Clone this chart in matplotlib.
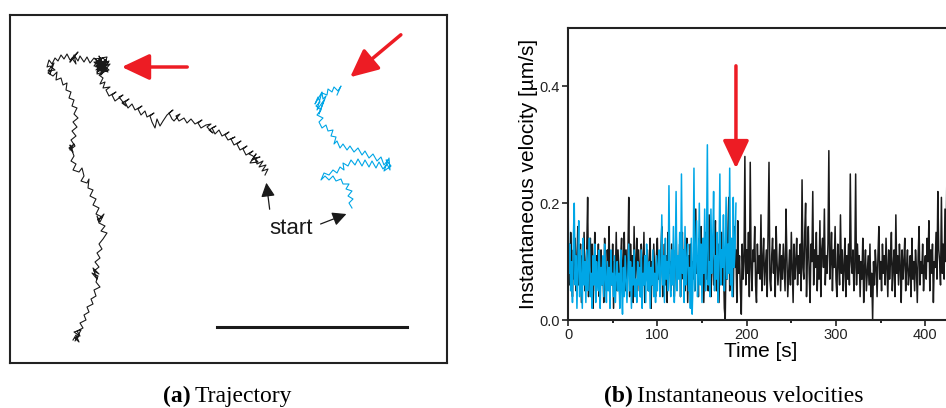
import numpy as np
import matplotlib.pyplot as plt

plt.rcParams['font.family'] = ['Liberation Sans', 'DejaVu Sans']

# trajectory (a), points in image units (x right, y down), from start to end
black_path = [
    (265, 175), (268, 169), (262, 171), (266, 165), (259, 167), (263, 161), (257, 164), (255, 158), (260, 157),
    (252, 160), (256, 154), (250, 163), (258, 162), (253, 156), (249, 154), (253, 151), (246, 155), (243, 149),
    (247, 146), (240, 150), (237, 144), (241, 141), (234, 145), (231, 139), (235, 137), (228, 140), (225, 135),
    (229, 132), (222, 136), (219, 130), (215, 134), (212, 128), (216, 126), (209, 130), (213, 133), (207, 127),
    (211, 124), (206, 125), (201, 128), (198, 123), (202, 120), (195, 124), (191, 119), (187, 123), (184, 118),
    (179, 121), (176, 116), (180, 114), (174, 121), (172, 119), (169, 113), (173, 110), (167, 115),
    (163, 121), (160, 126), (157, 119), (155, 128), (152, 122), (150, 116), (154, 113), (147, 117), (145, 111),
    (141, 115), (138, 109), (142, 106), (135, 110), (132, 104), (128, 108), (125, 102), (129, 99), (122, 103),
    (126, 106), (119, 97), (123, 95), (115, 101), (112, 95), (116, 92), (109, 96), (106, 90), (110, 87),
    (103, 88), (105, 82), (100, 84), (103, 78), (99, 75),
    (104, 72), (98, 68), (106, 64), (100, 60), (96, 67), (104, 66), (99, 71), (107, 69), (101, 62), (95, 63),
    (103, 58), (108, 63), (97, 72), (102, 67), (106, 60), (98, 64), (104, 70), (100, 58), (94, 66), (105, 66),
    (99, 62), (97, 74), (109, 70), (95, 59), (107, 57), (101, 75), (110, 64), (96, 70), (105, 61), (100, 69),
    (108, 72), (94, 62), (103, 64), (99, 56), (106, 71), (98, 66), (109, 61), (102, 73), (96, 61), (105, 68),
    (100, 63),
    (94, 58), (90, 63), (87, 57), (84, 62), (80, 56), (78, 61), (74, 55), (76, 64), (72, 58), (78, 52),
    (70, 62), (74, 57), (70, 60), (67, 54), (64, 59), (61, 55), (58, 61), (55, 58), (52, 64), (49, 60),
    (47, 67), (50, 66), (55, 70), (48, 71), (54, 63), (50, 74), (51, 70), (48, 73), (53, 76), (57, 72), (56, 80),
    (61, 78), (63, 85), (67, 83), (66, 90), (71, 92), (69, 98), (74, 100), (72, 106), (77, 108), (74, 114),
    (78, 118), (73, 122), (77, 127), (72, 131), (76, 136), (71, 140), (75, 146), (70, 150), (74, 144),
    (69, 148), (73, 152), (70, 145), (74, 156), (71, 161), (76, 164), (73, 170), (79, 172), (82, 168),
    (84, 176), (81, 181), (87, 183), (89, 179), (88, 188), (93, 190), (90, 196), (96, 199), (93, 205),
    (99, 208), (96, 214), (102, 217), (98, 220), (104, 214), (100, 222), (97, 216), (99, 223), (105, 226),
    (101, 231), (107, 233), (103, 239), (99, 244), (102, 249), (97, 253), (100, 258), (95, 262), (99, 267),
    (94, 271), (99, 274), (93, 268), (97, 279), (92, 273), (98, 276), (96, 282), (100, 287), (94, 290),
    (96, 296), (91, 299), (93, 304), (87, 307), (89, 312), (84, 315), (86, 320), (80, 323), (83, 328),
    (77, 331), (80, 336), (74, 332), (81, 330), (75, 341), (79, 336), (75, 338), (79, 342), (76, 335), (73, 340)]

blue_path = [
    (352, 208), (349, 203), (353, 199), (348, 196), (352, 191), (346, 189), (349, 184), (343, 184), (341, 179),
    (336, 181), (333, 176), (329, 180), (325, 176), (321, 180), (324, 173), (329, 175), (333, 170), (337, 173),
    (340, 167), (344, 170), (343, 163), (348, 166), (351, 160), (355, 165), (358, 159), (362, 166), (365, 160),
    (369, 167), (372, 161), (376, 168), (379, 162), (383, 169), (387, 164), (390, 170), (389, 158), (384, 171),
    (391, 166), (386, 160), (388, 160), (384, 165), (381, 157), (377, 161), (373, 154), (369, 158), (365, 151),
    (362, 155), (358, 148), (354, 152), (350, 146), (347, 150), (343, 144), (340, 148), (337, 141), (334, 144),
    (336, 137), (331, 136), (333, 130), (328, 131), (326, 125), (322, 128), (319, 122), (323, 118), (317, 115),
    (321, 110), (316, 106), (320, 102), (318, 97), (315, 104), (322, 92), (317, 110), (324, 100), (319, 114),
    (326, 96), (323, 99), (322, 93), (327, 95), (328, 89), (332, 92), (334, 87), (338, 91), (341, 86), (337, 95)]

# instantaneous velocities (b), one value per second
v_black = [0.03, 0.13, 0.06, 0.15, 0.09, 0.04, 0.12, 0.07, 0.14, 0.05, 0.10, 0.16, 0.06, 0.08, 0.13, 0.03, 0.11, 0.07, 0.15, 0.05,
           0.09, 0.12, 0.21, 0.04, 0.10, 0.14, 0.06, 0.13, 0.02, 0.08, 0.15, 0.05, 0.11, 0.07, 0.13, 0.04, 0.09, 0.12, 0.06, 0.10,
           0.03, 0.14, 0.08, 0.05, 0.12, 0.09, 0.16, 0.04, 0.11, 0.06, 0.13, 0.02, 0.10, 0.07, 0.15, 0.05, 0.12, 0.08, 0.04, 0.11,
           0.14, 0.06, 0.09, 0.15, 0.05, 0.12, 0.07, 0.10, 0.21, 0.04, 0.13, 0.08, 0.11, 0.03, 0.16, 0.06, 0.09, 0.14, 0.05, 0.12,
           0.08, 0.04, 0.13, 0.10, 0.06, 0.15, 0.03, 0.11, 0.07, 0.12, 0.05, 0.09, 0.14, 0.02, 0.10, 0.06, 0.13, 0.08, 0.04, 0.11,
           0.14, 0.07, 0.10, 0.05, 0.12, 0.16, 0.04, 0.09, 0.13, 0.06, 0.11, 0.03, 0.15, 0.08, 0.10, 0.05, 0.13, 0.07, 0.12, 0.04,
           0.09, 0.16, 0.06, 0.11, 0.08, 0.13, 0.04, 0.10, 0.15, 0.07, 0.12, 0.05, 0.09, 0.14, 0.03, 0.11, 0.06, 0.13, 0.02, 0.10,
           0.07, 0.13, 0.05, 0.19, 0.08, 0.11, 0.04, 0.14, 0.09, 0.16, 0.06, 0.12, 0.03, 0.10, 0.15, 0.07, 0.13, 0.05, 0.18, 0.08,
           0.04, 0.14, 0.10, 0.06, 0.12, 0.17, 0.05, 0.09, 0.13, 0.03, 0.11, 0.08, 0.15, 0.06, 0.10, 0.02, 0.00, 0.12, 0.07, 0.15,
           0.21, 0.05, 0.10, 0.13, 0.07, 0.04, 0.16, 0.09, 0.12, 0.03, 0.17, 0.08, 0.11, 0.05, 0.01, 0.13, 0.07, 0.10, 0.28, 0.06,
           0.12, 0.08, 0.15, 0.04, 0.27, 0.09, 0.05, 0.12, 0.10, 0.16, 0.06, 0.03, 0.13, 0.08, 0.11, 0.07, 0.18, 0.05, 0.10, 0.14,
           0.06, 0.09, 0.12, 0.04, 0.15, 0.27, 0.07, 0.05, 0.11, 0.14, 0.08, 0.12, 0.04, 0.16, 0.10, 0.06, 0.09, 0.13, 0.05, 0.11,
           0.07, 0.13, 0.09, 0.05, 0.19, 0.11, 0.04, 0.08, 0.12, 0.06, 0.15, 0.09, 0.03, 0.13, 0.07, 0.10, 0.14, 0.06, 0.11, 0.08,
           0.13, 0.05, 0.24, 0.09, 0.07, 0.15, 0.20, 0.04, 0.11, 0.16, 0.08, 0.03, 0.13, 0.10, 0.22, 0.06, 0.12, 0.09, 0.15, 0.05,
           0.11, 0.07, 0.17, 0.04, 0.12, 0.14, 0.09, 0.19, 0.06, 0.11, 0.08, 0.13, 0.29, 0.07, 0.10, 0.15, 0.05, 0.12, 0.09, 0.16,
           0.07, 0.04, 0.13, 0.10, 0.06, 0.18, 0.08, 0.12, 0.05, 0.09, 0.14, 0.04, 0.11, 0.07, 0.13, 0.06, 0.25, 0.10, 0.08, 0.12,
           0.05, 0.09, 0.25, 0.06, 0.13, 0.08, 0.11, 0.04, 0.10, 0.07, 0.14, 0.03, 0.09, 0.12, 0.05, 0.08, 0.11, 0.06, 0.13, 0.04,
           0.08, 0.00, 0.10, 0.06, 0.12, 0.09, 0.04, 0.11, 0.16, 0.07, 0.10, 0.05, 0.13, 0.08, 0.11, 0.06, 0.14, 0.09, 0.04, 0.12,
           0.07, 0.10, 0.15, 0.05, 0.09, 0.12, 0.04, 0.18, 0.08, 0.11, 0.06, 0.13, 0.09, 0.03, 0.12, 0.07, 0.10, 0.14, 0.05, 0.09,
           0.12, 0.06, 0.08, 0.11, 0.04, 0.14, 0.07, 0.10, 0.05, 0.12, 0.09, 0.03, 0.11, 0.16, 0.06, 0.10, 0.08, 0.13, 0.05, 0.09,
           0.11, 0.07, 0.14, 0.10, 0.17, 0.05, 0.12, 0.08, 0.13, 0.03, 0.10, 0.09, 0.15, 0.07, 0.22, 0.12, 0.10, 0.06, 0.21, 0.08,
           0.13, 0.07, 0.19, 0.10, 0.23, 0.06, 0.14, 0.09, 0.12, 0.05, 0.11, 0.16, 0.08, 0.10, 0.13, 0.06, 0.12, 0.09, 0.15, 0.07]
v_blue = [0.21, 0.08, 0.13, 0.05, 0.10, 0.03, 0.14, 0.20, 0.06, 0.11, 0.02, 0.09, 0.17, 0.04, 0.12, 0.07, 0.02, 0.14, 0.06, 0.10,
          0.03, 0.12, 0.05, 0.09, 0.14, 0.04, 0.08, 0.02, 0.11, 0.06, 0.13, 0.03, 0.10, 0.07, 0.05, 0.12, 0.02, 0.09, 0.06, 0.11,
          0.04, 0.13, 0.07, 0.03, 0.10, 0.05, 0.09, 0.02, 0.12, 0.06, 0.08, 0.04, 0.11, 0.03, 0.07, 0.10, 0.05, 0.08, 0.02, 0.12,
          0.06, 0.01, 0.09, 0.04, 0.11, 0.07, 0.03, 0.08, 0.13, 0.05, 0.10, 0.02, 0.09, 0.06, 0.12, 0.04, 0.07, 0.03, 0.10, 0.06,
          0.09, 0.04, 0.12, 0.02, 0.08, 0.06, 0.11, 0.03, 0.13, 0.07, 0.05, 0.10, 0.02, 0.09, 0.06, 0.12, 0.04, 0.08, 0.03, 0.11,
          0.05, 0.09, 0.12, 0.04, 0.08, 0.18, 0.06, 0.11, 0.03, 0.14, 0.07, 0.10, 0.05, 0.23, 0.08, 0.04, 0.12, 0.06, 0.16, 0.03,
          0.09, 0.22, 0.05, 0.11, 0.07, 0.15, 0.04, 0.25, 0.08, 0.12, 0.03, 0.16, 0.06, 0.10, 0.13, 0.05, 0.09, 0.02, 0.14, 0.01,
          0.07, 0.26, 0.05, 0.11, 0.17, 0.04, 0.09, 0.20, 0.06, 0.13, 0.03, 0.14, 0.08, 0.19, 0.05, 0.12, 0.30, 0.06, 0.10, 0.04,
          0.19, 0.08, 0.13, 0.22, 0.05, 0.11, 0.07, 0.15, 0.03, 0.10, 0.25, 0.06, 0.12, 0.09, 0.18, 0.05, 0.11, 0.21, 0.07, 0.13,
          0.08, 0.26, 0.06, 0.14, 0.04, 0.21, 0.09, 0.12, 0.20]
t_black = np.arange(len(v_black))
t_blue = np.arange(len(v_blue))

black_x, black_y = zip(*black_path)
blue_x, blue_y = zip(*blue_path)

blue = '#00A6E6'
red = '#ED1C24'
ink = '#1a1a1a'
red_head = '-|>,head_length=0.85,head_width=0.4'
small_head = '-|>,head_length=0.6,head_width=0.3'

fig = plt.figure(figsize=(9.46, 4.08), dpi=100)

# ---- (a) trajectory
ax1 = fig.add_axes([10 / 946, 1 - 363 / 408, 437 / 946, 348 / 408])
ax1.plot(black_x, black_y, color=ink, lw=0.8)
ax1.plot(blue_x, blue_y, color=blue, lw=0.8)
ax1.set_xlim(10, 447)
ax1.set_ylim(363, 15)
ax1.set_xticks([])
ax1.set_yticks([])
for s in ax1.spines.values():
    s.set_linewidth(1.5)
    s.set_color('#222222')
ax1.plot([217, 407], [327, 327], color=ink, lw=2.2)
ax1.annotate('', xy=(119, 67), xytext=(190, 67),
             arrowprops=dict(arrowstyle=red_head, color=red, lw=2.5, mutation_scale=20))
ax1.annotate('', xy=(348, 79), xytext=(403, 33),
             arrowprops=dict(arrowstyle=red_head, color=red, lw=2.5, mutation_scale=20))
ax1.text(269, 229, 'start', fontsize=16, color=ink, ha='left', va='center')
ax1.annotate('', xy=(266, 180), xytext=(270, 212),
             arrowprops=dict(arrowstyle=small_head, color=ink, lw=0.9, mutation_scale=14))
ax1.annotate('', xy=(349, 213), xytext=(318, 225),
             arrowprops=dict(arrowstyle=small_head, color=ink, lw=0.9, mutation_scale=14))

# ---- (b) velocities
ax2 = fig.add_axes([568 / 946, 1 - 320 / 408, 402 / 946, 292 / 408])
ax2.plot(t_black, v_black, color=ink, lw=1.1)
ax2.plot(t_blue, v_blue, color=blue, lw=1.1)
ax2.set_xlim(0, 450)
ax2.set_ylim(0, 0.5)
ax2.set_xticks([0, 100, 200, 300, 400])
ax2.set_xticks([50, 150, 250, 350], minor=True)
ax2.set_yticks([0.0, 0.2, 0.4])
ax2.set_yticklabels(['0.0', '0.2', '0.4'])
ax2.tick_params(labelsize=10.5, colors='#222222', width=1.2, length=4, pad=2)
ax2.tick_params(which='minor', width=1.2, length=2.5)
for s in ax2.spines.values():
    s.set_linewidth(1.5)
    s.set_color('#222222')
ax2.set_xlabel('Time [s]', fontsize=15)
ax2.xaxis.set_label_coords(0.48, -0.075)
ax2.set_ylabel('Instantaneous velocity [µm/s]', fontsize=15, labelpad=1)
ax2.annotate('', xy=(188, 0.255), xytext=(188, 0.44),
             arrowprops=dict(arrowstyle=red_head, color=red, lw=2.5, mutation_scale=20))

# captions
serif = ['Liberation Serif', 'DejaVu Serif']
fig.text(163 / 946, 0.028, '(a)', family=serif, fontweight='bold', fontsize=17, va='center')
fig.text(195 / 946, 0.028, 'Trajectory', family=serif, fontsize=17, va='center')
fig.text(604 / 946, 0.028, '(b)', family=serif, fontweight='bold', fontsize=17, va='center')
fig.text(637 / 946, 0.028, 'Instantaneous velocities', family=serif, fontsize=17, va='center')

fig.savefig('out.png', dpi=100)
